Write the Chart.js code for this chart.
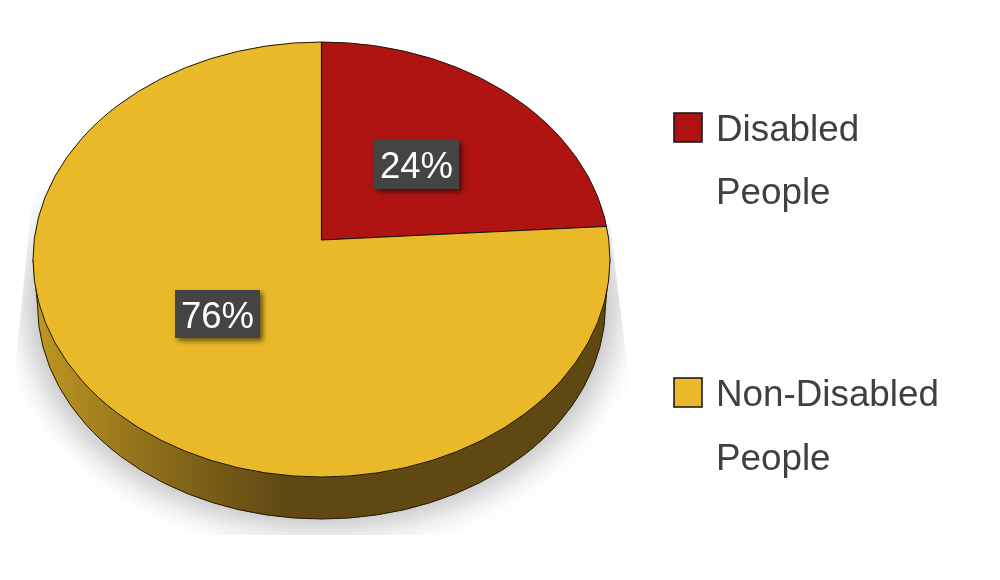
<!DOCTYPE html>
<html><head><meta charset="utf-8">
<style>html,body{margin:0;padding:0;background:#fff}canvas{display:block}</style>
<script src="https://cdn.jsdelivr.net/npm/chart.js@4"></script>
</head><body><canvas id="c" width="1000" height="580"></canvas>
<script>
const categories = ['Disabled People', 'Non-Disabled People'];
const values = [24, 76];
const colors = ['#b01412', '#e9b92a'];
const valueLabels = ['24%', '76%'];
const legendLines = [['Disabled', 'People'], ['Non-Disabled', 'People']];

const TOP = {cx: 321.5, cy: 259.5, rx: 288.5, ry: 217.5};
const BOT = {cx: 321.5, cy: 305, rx: 284, ry: 214};
const APEX = {x: 321.5, y: 240};
const SCALE = 1.2;
const FONT = '"Liberation Sans", Arial, sans-serif';
const BOXES = [{x: 374, y: 140, w: 85, h: 49}, {x: 175, y: 290, w: 85, h: 48}];
const LEG = [{sq: 113, b1: 141, b2: 204}, {sq: 378, b1: 406, b2: 470}];

function ell(ctx, e) { ctx.beginPath(); ctx.ellipse(e.cx, e.cy, e.rx, e.ry, 0, 0, Math.PI * 2); }

const pie3d = {
  id: 'pie3d',
  beforeDatasetsDraw(chart) {
    const ctx = chart.ctx;
    // ground shadow
    ctx.save();
    ctx.beginPath();
    ctx.moveTo(33, 190); ctx.lineTo(15, 370); ctx.lineTo(15, 535); ctx.lineTo(628, 535);
    ctx.lineTo(628, 370); ctx.lineTo(610, 225); ctx.closePath(); ctx.clip();
    ctx.shadowColor = 'rgba(0,0,0,0.26)';
    ctx.shadowBlur = 32;
    ctx.shadowOffsetX = 2000;
    ctx.shadowOffsetY = 0;
    ctx.fillStyle = '#000';
    ctx.beginPath();
    ctx.ellipse(321.5 - 2000, 306, 295, 222, 0, 0, Math.PI * 2);
    ctx.fill();
    ctx.restore();
    // side wall
    ctx.save();
    const g = ctx.createLinearGradient(38, 0, 285, 0);
    g.addColorStop(0, '#bd9722'); g.addColorStop(0.5, '#8a6b1b'); g.addColorStop(1, '#5f4812');
    ctx.fillStyle = g;
    ctx.strokeStyle = '#221a05';
    ctx.lineWidth = 1;
    ctx.beginPath();
    ctx.moveTo(TOP.cx - TOP.rx, TOP.cy);
    ctx.lineTo(BOT.cx - BOT.rx, BOT.cy);
    ctx.ellipse(BOT.cx, BOT.cy, BOT.rx, BOT.ry, 0, Math.PI, 0, true);
    ctx.lineTo(TOP.cx + TOP.rx, TOP.cy);
    ctx.closePath();
    ctx.fill(); ctx.stroke();
    ctx.restore();
    // top face: clip to ellipse, project pie
    ctx.save();
    ell(ctx, TOP); ctx.clip();
    ctx.translate(APEX.x, APEX.y);
    ctx.scale(SCALE, SCALE * TOP.ry / TOP.rx);
    ctx.translate(-chart.chartArea.left - chart.chartArea.width / 2, -chart.chartArea.top - chart.chartArea.height / 2);
  },
  afterDatasetsDraw(chart) {
    const ctx = chart.ctx;
    ctx.restore();
    ctx.save();
    ctx.strokeStyle = '#1c1604'; ctx.lineWidth = 1;
    ell(ctx, TOP); ctx.stroke();
    // value labels
    ctx.textAlign = 'center'; ctx.textBaseline = 'alphabetic';
    valueLabels.forEach((t, i) => {
      const b = BOXES[i];
      ctx.save();
      ctx.shadowColor = 'rgba(0,0,0,0.55)'; ctx.shadowBlur = 5; ctx.shadowOffsetX = 3; ctx.shadowOffsetY = 3;
      ctx.fillStyle = '#444444';
      ctx.fillRect(b.x, b.y, b.w, b.h);
      ctx.restore();
      ctx.fillStyle = '#ffffff';
      ctx.font = '36.5px ' + FONT;
      ctx.fillText(t, b.x + b.w / 2, b.y + 38);
    });
    // legend
    ctx.textAlign = 'left';
    legendLines.forEach((lines, i) => {
      const l = LEG[i];
      ctx.fillStyle = colors[i];
      ctx.strokeStyle = '#111'; ctx.lineWidth = 1.5;
      ctx.fillRect(674, l.sq, 28, 29);
      ctx.strokeRect(674, l.sq, 28, 29);
      ctx.fillStyle = '#404040';
      ctx.font = '36.8px ' + FONT;
      ctx.fillText(lines[0], 716, l.b1);
      ctx.fillText(lines[1], 716, l.b2);
    });
    ctx.restore();
  }
};

new Chart(document.getElementById('c'), {
  type: 'pie',
  data: {labels: categories, datasets: [{data: values, backgroundColor: colors, borderColor: '#1c1604', borderWidth: 1, clip: false}]},
  options: {
    responsive: false, animation: false,
    layout: {padding: 0},
    plugins: {legend: {display: false}, tooltip: {enabled: false}}
  },
  plugins: [pie3d]
});
</script></body></html>
